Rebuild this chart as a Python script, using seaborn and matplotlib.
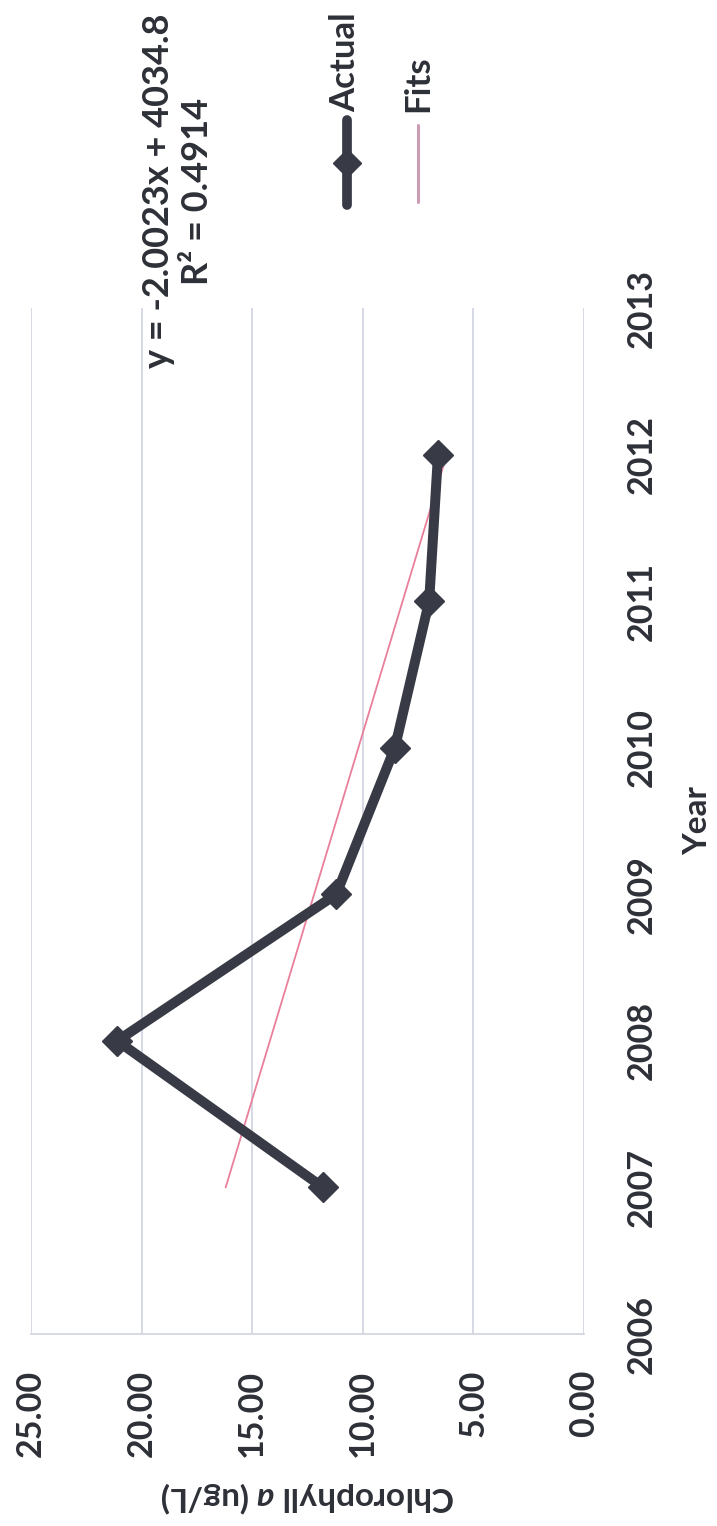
import matplotlib
matplotlib.use("Agg")
import matplotlib.pyplot as plt
from matplotlib.lines import Line2D
import seaborn as sns
import pandas as pd

# ---- data ----
years = [2007, 2008, 2009, 2010, 2011, 2012]
actual = [11.8, 21.1, 11.2, 8.55, 7.0, 6.6]
fits = [16.2, 14.2, 12.2, 10.2, 8.2, 6.2]
value_ticks = [25, 20, 15, 10, 5, 0]
year_ticks = [2006, 2007, 2008, 2009, 2010, 2011, 2012, 2013]
equation_text = "y = -2.0023x + 4034.8\nR\u00b2 = 0.4914"
series_names = ["Actual", "Fits"]

sns.set_theme(style="white")
plt.rcParams["font.family"] = ["Lato", "DejaVu Sans"]
plt.rcParams["mathtext.fontset"] = "custom"
plt.rcParams["mathtext.it"] = "Lato:italic:bold"
plt.rcParams["mathtext.rm"] = "Lato:bold"
plt.rcParams["mathtext.bf"] = "Lato:bold"

W, H = 717, 1526
DPI = 100
fig = plt.figure(figsize=(W / DPI, H / DPI), dpi=DPI)
fig.patch.set_facecolor("white")

def fx(px):
    return px / W

def fy(py):
    return 1 - py / H

left, right, top, bottom = 31, 584, 308, 1334
ax = fig.add_axes([fx(left), fy(bottom), fx(right) - fx(left), fy(top) - fy(bottom)])

df = pd.DataFrame({"year": years, "actual": actual, "fits": fits})

dark = "#383a46"
pink = "#ea7f9a"
grid_c = "#d3d7e3"
text_c = "#2e3038"

sns.lineplot(data=df, x="fits", y="year", orient="y", ax=ax, color=pink,
             linewidth=1.3, zorder=2)
sns.lineplot(data=df, x="actual", y="year", orient="y", ax=ax, color=dark,
             linewidth=7.2, marker="D", markersize=15, markeredgecolor=dark,
             markeredgewidth=1, zorder=3)

ax.set_xlim(25, 0)
ax.set_ylim(2006, 2013)
ax.set_xticks(value_ticks)
ax.set_xticklabels([f"{v:.2f}" for v in value_ticks], rotation=90,
                   fontsize=24.5, fontweight="bold", color=text_c)
ax.set_yticks(year_ticks)
ax.yaxis.tick_right()
ax.set_yticklabels([str(y) for y in year_ticks], rotation=90, va="center",
                   ha="left", fontsize=24.5, fontweight="bold", color=text_c)
ax.tick_params(axis="x", length=0, pad=26)
ax.tick_params(axis="y", length=0, pad=30)

ax.grid(False)
for v in value_ticks:
    ax.axvline(v, color=grid_c, linewidth=1.3, zorder=1)
for s in ["top", "left", "right"]:
    ax.spines[s].set_visible(False)
ax.spines["bottom"].set_color(grid_c)
ax.spines["bottom"].set_linewidth(1.3)

ax.set_xlabel("Chlorophyll $a$ (ug/L)", fontsize=24, fontweight="bold",
              color=text_c, rotation=180)
ax.xaxis.set_label_coords(0.5, (bottom - 1497) / (bottom - top))
ax.xaxis.label.set_va("center")
ax.xaxis.label.set_ha("center")

ax.set_ylabel("Year", fontsize=24, fontweight="bold", color=text_c)
ax.yaxis.set_label_position("right")
ax.yaxis.label.set_rotation(90)
ax.yaxis.label.set_va("center")
ax.yaxis.label.set_ha("center")
ax.yaxis.set_label_coords((698 - left) / (right - left), 0.5)

# trendline equation
fig.text(fx(178), fy(191), equation_text, rotation=90, ha="center", va="center",
         multialignment="center", fontsize=26, fontweight="bold",
         color=text_c, linespacing=1.25)

# legend (drawn by hand, rotated with the chart)
fig.add_artist(Line2D([fx(347), fx(347)], [fy(205), fy(120)], color=dark,
                      linewidth=7, transform=fig.transFigure))
fig.add_artist(Line2D([fx(347)], [fy(163)], color=dark, marker="D",
                      markersize=14, transform=fig.transFigure))
fig.add_artist(Line2D([fx(418), fx(418)], [fy(202), fy(125)], color="#cc9cb5",
                      linewidth=2.2, transform=fig.transFigure))
fig.text(fx(345), fy(112), series_names[0], rotation=90, ha="center", va="bottom",
         fontsize=25, fontweight="bold", color=text_c)
fig.text(fx(418), fy(112), series_names[1], rotation=90, ha="center", va="bottom",
         fontsize=25, fontweight="bold", color=text_c)

fig.savefig("out.png", dpi=DPI, facecolor="white")
